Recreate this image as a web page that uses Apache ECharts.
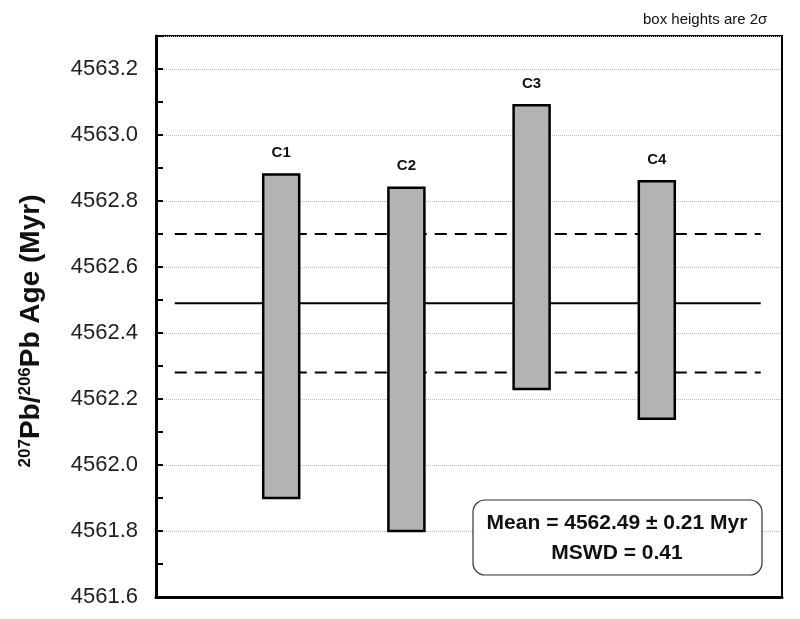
<!DOCTYPE html>
<html><head><meta charset="utf-8">
<script src="https://cdn.jsdelivr.net/npm/echarts@6/dist/echarts.min.js"></script>
<style>html,body{margin:0;padding:0;background:#fff}#c{width:800px;height:619px}</style>
</head><body><div id="c"></div>
<script>
const names = ['C1','C2','C3','C4'];
const positions = [1,2,3,4];
const lows = [4561.90, 4561.80, 4562.23, 4562.14];
const highs = [4562.88, 4562.84, 4563.09, 4562.86];
const meanAge = 4562.49;
const meanErr = 0.21;
const mswd = 0.41;
const lineExtent = [0.15, 4.83];

const boxData = positions.map((p,i)=>[p, lows[i], highs[i]]);
const chart = echarts.init(document.getElementById('c'));
const font = '"Liberation Sans", Arial, sans-serif';
chart.setOption({
  animation:false,
  grid:{left:156,right:18,top:36,bottom:22,show:true,borderColor:'#000',borderWidth:2},
  xAxis:{type:'value',min:0,max:5,axisLabel:{show:false},axisTick:{show:false},splitLine:{show:false},
    axisLine:{show:true,onZero:false,lineStyle:{color:'#000',width:3}}},
  yAxis:{type:'value',min:4561.6,max:4563.3,interval:0.2,
    axisLine:{show:true,lineStyle:{color:'#000',width:3}},
    axisTick:{show:true,inside:true,length:7,lineStyle:{color:'#000',width:2}},
    minorTick:{show:true,splitNumber:2,length:7,lineStyle:{color:'#000',width:2}},
    axisLabel:{showMaxLabel:false,margin:18,fontFamily:font,fontSize:22,color:'#222',formatter:v=>v.toFixed(1)},
    splitLine:{show:true,lineStyle:{color:'#bbb',type:'dotted',width:1}}},
  graphic:[
    {type:'text',rotation:Math.PI/2,x:31,y:331,style:{
      text:'{sup|207}{b|Pb/}{sup|206}{b|Pb Age (Myr)}',align:'center',verticalAlign:'middle',
      rich:{b:{fontFamily:font,fontWeight:'bold',fontSize:28,fill:'#111',color:'#111'},
            sup:{fontFamily:font,fontWeight:'bold',fontSize:17,fill:'#111',color:'#111',verticalAlign:'top',padding:[0,0,12,0]}}}},
    {type:'text',left:643,top:12,style:{text:'box heights are 2σ',font:'15px '+font,fill:'#111'}},
    {type:'rect',shape:{x:473,y:500,width:289,height:75,r:12},style:{fill:'#fff',stroke:'#333',lineWidth:1.2},z:100},
    {type:'text',z:101,style:{x:617,y:523,text:'Mean = '+meanAge.toFixed(2)+' ± '+meanErr.toFixed(2)+' Myr',font:'bold 21px '+font,fill:'#111',textAlign:'center',textVerticalAlign:'middle'}},
    {type:'text',z:101,style:{x:617,y:553,text:'MSWD = '+mswd.toFixed(2),font:'bold 21px '+font,fill:'#111',textAlign:'center',textVerticalAlign:'middle'}}
  ],
  series:[
    {type:'line',symbol:'none',z:1,lineStyle:{color:'#000',width:2},data:[[lineExtent[0],meanAge],[lineExtent[1],meanAge]]},
    {type:'line',symbol:'none',z:1,lineStyle:{color:'#000',width:2,type:[12,8]},data:[[lineExtent[0],meanAge+meanErr],[lineExtent[1],meanAge+meanErr]]},
    {type:'line',symbol:'none',z:1,lineStyle:{color:'#000',width:2,type:[12,8]},data:[[lineExtent[0],meanAge-meanErr],[lineExtent[1],meanAge-meanErr]]},
    {type:'custom',z:5,data:boxData,renderItem:(params,api)=>{
      const x=api.value(0),lo=api.value(1),hi=api.value(2);
      const pt=api.coord([x,hi]),pb=api.coord([x,lo]);
      return {type:'group',children:[
        {type:'rect',shape:{x:pt[0]-18,y:pt[1],width:36,height:pb[1]-pt[1]},style:{fill:'#b3b3b3',stroke:'#000',lineWidth:2.5}},
        {type:'text',style:{x:pt[0],y:pt[1]-14,text:names[params.dataIndex],font:'bold 15px '+font,fill:'#111',textAlign:'center',textVerticalAlign:'bottom'}}
      ]};
    }}
  ]
});
</script></body></html>
